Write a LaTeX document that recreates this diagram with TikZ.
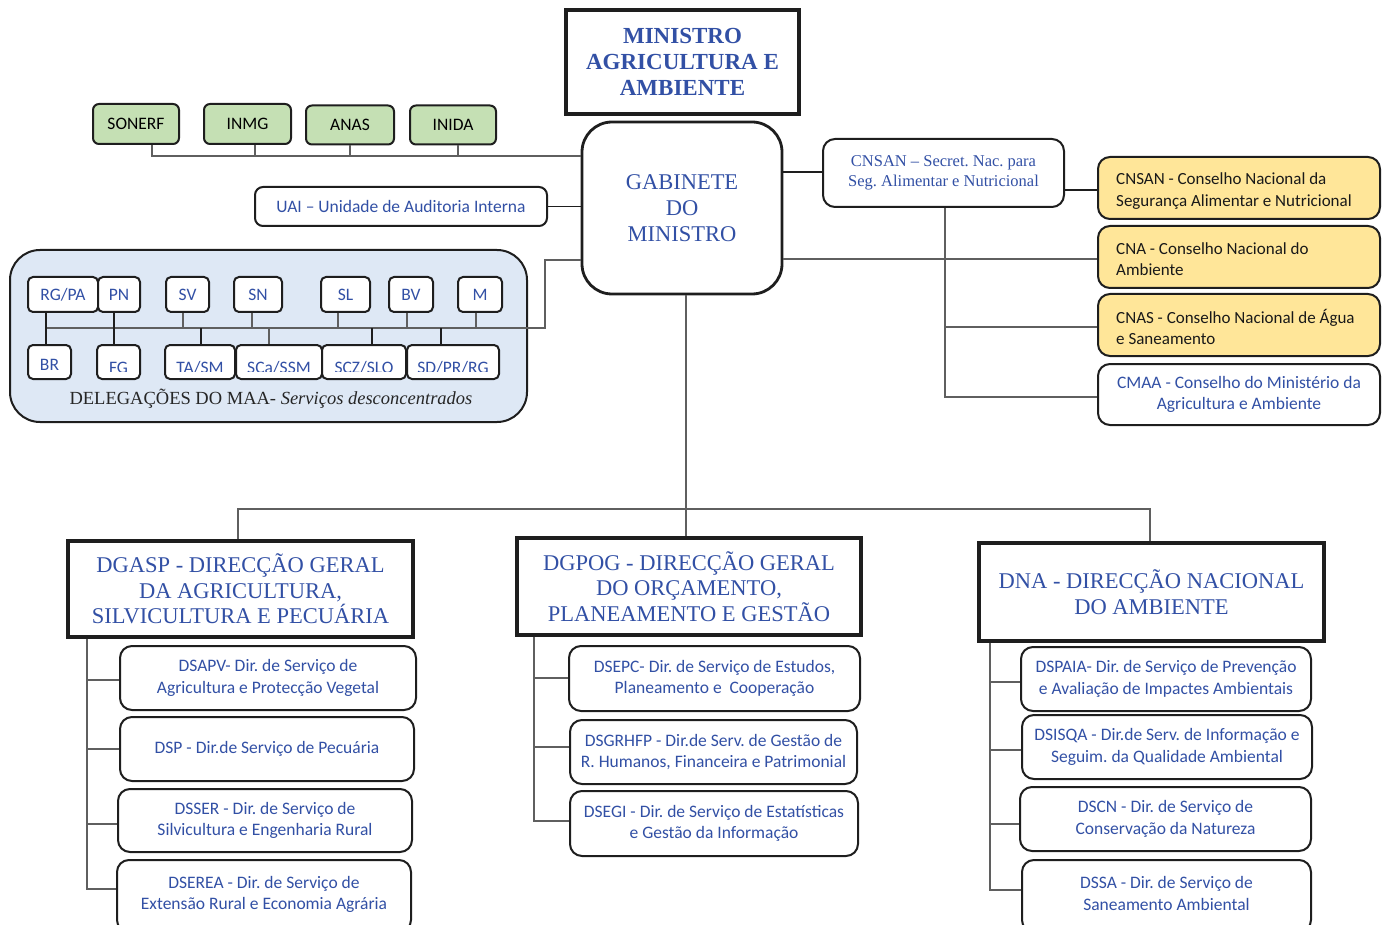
\documentclass[tikz,border=0pt]{standalone}
\usepackage{fontspec}
\setmainfont{Liberation Serif}
\newfontfamily\carl{Carlito}
\usetikzlibrary{calc}
\definecolor{tblue}{RGB}{50,80,165}
\definecolor{bdr}{RGB}{30,30,30}
\definecolor{lgray}{RGB}{95,95,95}
\definecolor{gfill}{RGB}{197,224,180}
\definecolor{yfill}{RGB}{255,230,153}
\definecolor{dfill}{RGB}{222,232,245}
\frenchspacing
\begin{document}
\frenchspacing
\begin{tikzpicture}[x=1pt,y=-1pt,
  every node/.style={inner sep=0pt, align=center},
  hbox/.style={draw=bdr, line width=3.2pt, fill=white, text=tblue},
  gabbox/.style={draw=bdr, line width=2.8pt, fill=white, text=tblue, rounded corners=30pt, font=\fontsize{22.5}{26}\selectfont},
  gbox/.style={draw=bdr, line width=2pt, fill=gfill, rounded corners=6pt, font=\carl\fontsize{17.5}{20}\selectfont, text=black},
  ybox/.style={draw=bdr, line width=2pt, fill=yfill, rounded corners=12pt},
  ytext/.style={anchor=west, font=\carl\fontsize{17}{21.5}\selectfont, text=black!90, align=left},
  cbox/.style={draw=bdr, line width=2pt, fill=white, rounded corners=12pt, font=\carl\fontsize{17.5}{21.5}\selectfont, text=tblue},
  sbox/.style={draw=bdr, line width=2pt, fill=white, rounded corners=12pt, font=\fontsize{16.5}{20}\selectfont, text=tblue},
  dbox/.style={draw=bdr, line width=2pt, fill=white, rounded corners=5pt, font=\carl\fontsize{17.5}{20}\selectfont, text=tblue},
  dtext/.style={font=\carl\fontsize{17.5}{21.5}\selectfont, text=tblue},
  head/.style={font=\fontsize{22.5}{25.5}\selectfont},
  conn/.style={draw=lgray, line width=1.3pt}]
\useasboundingbox (0,0) rectangle (1384,925);

% top
\node[hbox, font=\bfseries\fontsize{23}{26}\selectfont, minimum width=233, minimum height=104] (min) at (682.5,62) {MINISTRO\\AGRICULTURA E\\AMBIENTE};
\node[gabbox, minimum width=200, minimum height=172] (gab) at (682,208) {GABINETE\\DO\\MINISTRO};

% green
\node[gbox, minimum width=86, minimum height=40] (sonerf) at (136,124) {SONERF};
\node[gbox, minimum width=87, minimum height=40] (inmg) at (247.5,124) {INMG};
\node[gbox, minimum width=88, minimum height=39] (anas) at (350,125) {ANAS};
\node[gbox, minimum width=86, minimum height=39] (inida) at (453,125) {INIDA};

% UAI
\node[cbox, rounded corners=8pt, minimum width=292, minimum height=39] (uai) at (401,206.5) {UAI – Unidade de Auditoria Interna};

% delegations
\node[draw=bdr, line width=2pt, fill=dfill, rounded corners=30pt, minimum width=517, minimum height=172] (deleg) at (268.5,336) {};
\node[dbox, minimum width=70, minimum height=35] (rgpa) at (63,294.5) {RG/PA};
\node[dbox, minimum width=42, minimum height=35] (pn) at (119,294.5) {PN};
\node[dbox, minimum width=43, minimum height=35] (sv) at (187.5,294.5) {SV};
\node[dbox, minimum width=48, minimum height=35] (sn) at (258,294.5) {SN};
\node[dbox, minimum width=49, minimum height=35] (sl) at (345.5,294.5) {SL};
\node[dbox, minimum width=44, minimum height=35] (bv) at (411,294.5) {BV};
\node[dbox, minimum width=44, minimum height=35] (m) at (480,294.5) {M};
\node[dbox, minimum width=43, minimum height=34] (br) at (49.5,362) {};
\node[dbox, minimum width=43, minimum height=34] (fg) at (118.5,362) {};
\node[dbox, minimum width=70, minimum height=34] (tasm) at (200,362) {};
\node[dbox, minimum width=86, minimum height=34] (scassm) at (279,362) {};
\node[dbox, minimum width=84, minimum height=34] (sczslo) at (364,362) {};
\node[dbox, minimum width=92, minimum height=34] (sdprrg) at (453,362) {};
\node[dtext] (brt) at (br.center |- 0,364.5) {BR};
\begin{scope}
\clip (20,340) rectangle (510,371);
\node[dtext] (fgt) at (fg.center |- 0,367.5) {FG};
\node[dtext] (tasmt) at (tasm.center |- 0,367.5) {TA/SM};
\node[dtext] (scassmt) at (scassm.center |- 0,367.5) {SCa/SSM};
\node[dtext] (sczslot) at (sczslo.center |- 0,367.5) {SCZ/SLO};
\node[dtext] (sdprrgt) at (sdprrg.center |- 0,367.5) {SD/PR/RG};
\end{scope}
\node[font=\fontsize{18.5}{20}\selectfont, text=black!85] (dlab) at (271,399) {DELEGAÇÕES DO MAA- \textit{Serviços desconcentrados}};

% right side
\node[sbox, minimum width=241, minimum height=68] (sec) at (943.5,173) {CNSAN – Secret. Nac. para\\Seg. Alimentar e Nutricional};
\node[ybox, minimum width=282, minimum height=62] (ycns) at (1239,188) {};
\node[ytext] (ycnst) at ($(ycns.west)+(19,3)$) {CNSAN - Conselho Nacional da\\Segurança Alimentar e Nutricional};
\node[ybox, minimum width=282, minimum height=62] (cna) at (1239,257) {};
\node[ytext] (cnat) at ($(cna.west)+(19,2)$) {CNA - Conselho Nacional do\\Ambiente};
\node[ybox, minimum width=282, minimum height=62] (cnas) at (1239,325) {};
\node[ytext] (cnast) at ($(cnas.west)+(19,2)$) {CNAS - Conselho Nacional de Água\\e Saneamento};
\node[cbox, font=\carl\fontsize{17.5}{21}\selectfont, minimum width=282, minimum height=61] (cmaa) at (1239,394.5) {CMAA - Conselho do Ministério da\\Agricultura e Ambiente};

% directions
\node[hbox, head, minimum width=345, minimum height=96] (dgasp) at (240.5,589) {DGASP - DIRECÇÃO GERAL\\DA AGRICULTURA,\\SILVICULTURA E PECUÁRIA};
\node[hbox, head, minimum width=344, minimum height=97] (dgpog) at (689,586.5) {DGPOG - DIRECÇÃO GERAL\\DO ORÇAMENTO,\\PLANEAMENTO E GESTÃO};
\node[hbox, head, minimum width=345, minimum height=98] (dna) at (1151.5,592) {DNA - DIRECÇÃO NACIONAL\\DO AMBIENTE};

\node[cbox, minimum width=296, minimum height=64] (dsapv) at (268,678) {DSAPV- Dir. de Serviço de\\Agricultura e Protecção Vegetal};
\node[cbox, minimum width=294, minimum height=64] (dsp) at (267,749) {DSP - Dir.de Serviço de Pecuária};
\node[cbox, minimum width=294, minimum height=63] (dsser) at (265,820.5) {DSSER - Dir. de Serviço de\\Silvicultura e Engenharia Rural};
\node[cbox, minimum width=294, minimum height=72] (dserea) at (264,896) {};
\node[dtext] (dsereat) at (264,894.5) {DSEREA - Dir. de Serviço de\\Extensão Rural e Economia Agrária};

\node[cbox, minimum width=291, minimum height=65] (dsepc) at (714.5,678.5) {DSEPC- Dir. de Serviço de Estudos,\\Planeamento e \ Cooperação};
\node[cbox, minimum width=287, minimum height=64] (dsgrhfp) at (713.5,752) {DSGRHFP - Dir.de Serv. de Gestão de\\R. Humanos, Financeira e Patrimonial};
\node[cbox, minimum width=288, minimum height=65] (dsegi) at (714,823.5) {DSEGI - Dir. de Serviço de Estatísticas\\e Gestão da Informação};

\node[cbox, minimum width=290, minimum height=64] (dspaia) at (1166,679) {DSPAIA- Dir. de Serviço de Prevenção\\e Avaliação de Impactes Ambientais};
\node[cbox, minimum width=290, minimum height=64] (dsisqa) at (1167,747) {DSISQA - Dir.de Serv. de Informação e\\Seguim. da Qualidade Ambiental};
\node[cbox, minimum width=291, minimum height=64] (dscn) at (1165.5,819) {DSCN - Dir. de Serviço de\\Conservação da Natureza};
\node[cbox, minimum width=289, minimum height=72] (dssa) at (1166.5,896) {};
\node[dtext] (dssat) at (1166.5,893.5) {DSSA - Dir. de Serviço de\\Saneamento Ambiental};

% connectors: left of gabinete
\draw[conn] (sonerf.south -| 152,0) |- (gab.west |- 0,156);
\draw[conn] (inmg.south -| 255,0) -- (255,156);
\draw[conn] (anas.south -| 350,0) -- (350,156);
\draw[conn] (inida.south -| 458,0) -- (458,156);
\draw[conn, draw=bdr] (uai.east) -- (gab.west |- uai.east);
\draw[conn] (gab.west |- 0,260) -| (545,328) -- (46,328);
\draw[conn, draw=bdr] (rgpa.south -| 46,0) -- (br.north -| 46,0);
\draw[conn, draw=bdr] (pn.south -| 114,0) -- (fg.north -| 114,0);
\draw[conn] (sv.south -| 183,0) -- (183,328);
\draw[conn] (sn.south -| 252,0) -- (252,328);
\draw[conn] (sl.south -| 338,0) -- (338,328);
\draw[conn] (bv.south -| 407,0) -- (407,328);
\draw[conn] (m.south -| 476,0) -- (476,328);
\draw[conn, draw=bdr] (201,328) -- (tasm.north -| 201,0);
\draw[conn] (269,328) -- (scassm.north -| 269,0);
\draw[conn, draw=bdr] (372,328) -- (sczslo.north -| 372,0);
\draw[conn, draw=bdr] (441,328) -- (sdprrg.north -| 441,0);

% connectors: right of gabinete
\draw[conn, draw=bdr] (gab.east |- 0,172) -- (sec.west |- 0,172);
\draw[conn, draw=bdr] (sec.east |- 0,190) -- (ycns.west |- 0,190);
\draw[conn] (gab.east |- 0,259) -- (cna.west |- 0,259);
\draw[conn] (sec.south -| 945,0) |- (cmaa.west |- 0,397);
\draw[conn] (945,327) -- (cnas.west |- 0,327);

% connectors: down
\draw[conn] (gab.south -| 686,0) -- (dgpog.north -| 686,0);
\draw[conn] (dgasp.north -| 238,0) |- (1150,509) -- (dna.north -| 1150,0);

\draw[conn] (dgasp.south -| 87,0) -- (87,890);
\draw[conn] (87,680) -- (dsapv.west |- 0,680);
\draw[conn] (87,749) -- (dsp.west |- 0,749);
\draw[conn] (87,824) -- (dsser.west |- 0,824);
\draw[conn] (87,889) -- (dserea.west |- 0,889);

\draw[conn] (dgpog.south -| 534,0) -- (534,822);
\draw[conn] (534,678) -- (dsepc.west |- 0,678);
\draw[conn] (534,747) -- (dsgrhfp.west |- 0,747);
\draw[conn] (534,821) -- (dsegi.west |- 0,821);

\draw[conn] (dna.south -| 990,0) -- (990,891);
\draw[conn] (990,682) -- (dspaia.west |- 0,682);
\draw[conn] (990,750) -- (dsisqa.west |- 0,750);
\draw[conn] (990,824) -- (dscn.west |- 0,824);
\draw[conn] (990,890) -- (dssa.west |- 0,890);
\end{tikzpicture}
\end{document}
